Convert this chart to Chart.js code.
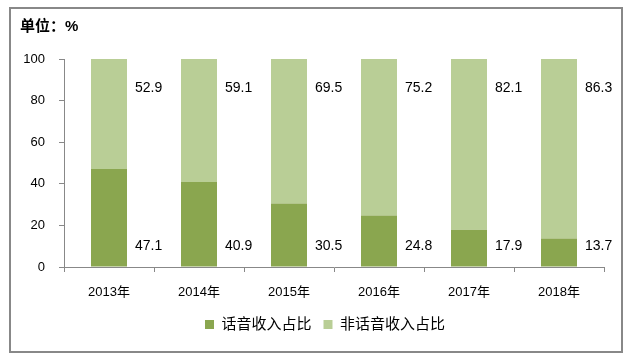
<!DOCTYPE html>
<html>
<head>
<meta charset="utf-8">
<script src="https://cdn.jsdelivr.net/npm/chart.js@4"></script>
<style>
  body { margin: 0; background: #fff; }
  #wrap { width: 628px; height: 358px; position: relative; }
</style>
</head>
<body>
<div id="wrap"><canvas id="barChart" width="628" height="358"></canvas></div>
<script>
const years = ['2013年', '2014年', '2015年', '2016年', '2017年', '2018年'];
const voiceShare = [47.1, 40.9, 30.5, 24.8, 17.9, 13.7];
const nonVoiceShare = [52.9, 59.1, 69.5, 75.2, 82.1, 86.3];
const yTicks = [0, 20, 40, 60, 80, 100];

const FONT = '"Liberation Sans", "Noto Sans CJK SC", sans-serif';

// frame, unit label and the value labels beside each bar
const extras = {
  id: 'extras',
  afterLayout(chart) {
    // legend sits a bit right of centre in the original
    chart.legend.left = 46;
  },
  beforeDraw(chart) {
    const ctx = chart.ctx;
    ctx.save();
    ctx.strokeStyle = '#888';
    ctx.lineWidth = 2;
    ctx.strokeRect(10, 8, 612, 344);
    ctx.fillStyle = '#000';
    ctx.font = 'bold 15px ' + FONT;
    ctx.textBaseline = 'middle';
    ctx.fillText('单位：%', 20, 27);
    ctx.restore();
  },
  afterDatasetsDraw(chart) {
    const ctx = chart.ctx;
    const y = chart.scales.y;
    ctx.save();
    ctx.fillStyle = '#000';
    ctx.font = '14px ' + FONT;
    ctx.textBaseline = 'middle';
    chart.getDatasetMeta(0).data.forEach((bar, i) => {
      const x = bar.x + bar.width / 2 + 8;
      ctx.fillText(nonVoiceShare[i].toFixed(1), x, y.getPixelForValue(86));
      ctx.fillText(voiceShare[i].toFixed(1), x, y.getPixelForValue(10));
    });
    ctx.restore();
  }
};

new Chart(document.getElementById('barChart'), {
  type: 'bar',
  data: {
    labels: years,
    datasets: [{
      label: '话音收入占比',
      data: voiceShare,
      backgroundColor: '#8AA64F'
    }, {
      label: '非话音收入占比',
      data: nonVoiceShare,
      backgroundColor: '#B9CE96'
    }]
  },
  options: {
    responsive: false,
    animation: false,
    categoryPercentage: 1,
    barPercentage: 0.4,
    layout: { padding: { left: 0, right: 24, top: 59, bottom: 16 } },
    scales: {
      x: {
        stacked: true,
        grid: { display: true, drawOnChartArea: false, tickLength: 5, color: '#888', offset: true },
        border: { color: '#888' },
        ticks: { color: '#000', font: { family: FONT, size: 13 }, padding: 13 },
        afterFit(s) { s.height = 38; }
      },
      y: {
        stacked: true,
        min: 0,
        max: 100,
        afterBuildTicks(s) { s.ticks = yTicks.map(v => ({ value: v })); },
        grid: { display: true, drawOnChartArea: false, tickLength: 5, color: '#888' },
        border: { color: '#888' },
        ticks: { color: '#000', font: { family: FONT, size: 13 }, padding: 14 },
        afterFit(s) { s.width = 64; }
      }
    },
    plugins: {
      legend: {
        position: 'bottom',
        labels: {
          boxWidth: 9,
          boxHeight: 9,
          padding: 12,
          color: '#000',
          font: { family: FONT, size: 15 }
        }
      },
      tooltip: { enabled: false }
    }
  },
  plugins: [extras]
});
</script>
</body>
</html>
